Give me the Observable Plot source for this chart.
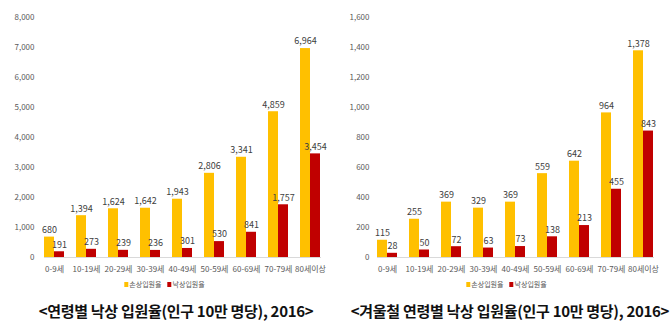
<!DOCTYPE html>
<html>
<head>
<meta charset="utf-8">
<script src="https://cdn.jsdelivr.net/npm/d3@7"></script>
<script src="https://cdn.jsdelivr.net/npm/@observablehq/plot@0.6"></script>
<style>
  html, body { margin: 0; padding: 0; background: #fff; }
  #root { position: relative; width: 671px; height: 331px; overflow: hidden; font-family: "Noto Sans CJK KR", "Noto Sans", sans-serif; }
  .panel { position: absolute; top: 0; }
  .legend { position: absolute; top: 279px; transform: translateX(-50%); white-space: nowrap; font-size: 7px; color: #595959; display: flex; align-items: center; gap: 3px; }
  .legend .sw { display: inline-block; width: 4px; height: 5px; margin-right: 1px; }
  .legend .item { display: inline-flex; align-items: center; margin-right: 3px; }
  .caption { position: absolute; top: 300px; transform: translateX(-50%); white-space: nowrap; font-size: 15px; font-weight: 700; color: #111; letter-spacing: -0.3px; }
  svg [aria-label^="fx-axis"] text { font-size: 8px; }
  svg [aria-label^="y-axis"] text { font-size: 8px; }
</style>
</head>
<body>
<div id="root"></div>
<script>
const ages = ["0-9세", "10-19세", "20-29세", "30-39세", "40-49세", "50-59세", "60-69세", "70-79세", "80세이상"];
const series = ["손상입원율", "낙상입원율"];
const colors = ["#FFC000", "#C00000"];
const injuryAll = [680, 1394, 1624, 1642, 1943, 2806, 3341, 4859, 6964];
const fallAll = [191, 273, 239, 236, 301, 530, 841, 1757, 3454];
const injuryWinter = [115, 255, 369, 329, 369, 559, 642, 964, 1378];
const fallWinter = [28, 50, 72, 63, 73, 138, 213, 455, 843];
const yTicksAll = [0, 1000, 2000, 3000, 4000, 5000, 6000, 7000, 8000];
const yTicksWinter = [0, 200, 400, 600, 800, 1000, 1200, 1400, 1600];
const captions = ["<연령별 낙상 입원율(인구 10만 명당), 2016>", "<겨울철 연령별 낙상 입원율(인구 10만 명당), 2016>"];

const fmt = d3.format(",");

function chart(inj, fall, ticks, o) {
  const rows = ages.flatMap((a, i) => [
    {age: a, s: series[0], v: inj[i]},
    {age: a, s: series[1], v: fall[i]}
  ]);
  return Plot.plot({
    width: o.width,
    height: 280,
    marginLeft: o.ml,
    marginRight: o.mr,
    marginTop: 17,
    marginBottom: 23,
    style: {fontFamily: "'Noto Sans CJK KR', 'Noto Sans', sans-serif", color: "#595959", background: "transparent"},
    facet: {data: rows, x: "age"},
    fx: {domain: ages, paddingInner: 0.36, paddingOuter: o.po, tickSize: 0, tickPadding: 9, label: null, axis: "bottom"},
    x: {domain: series, axis: null, padding: 0},
    y: {domain: [0, ticks[ticks.length - 1]], ticks: ticks, tickFormat: fmt, tickSize: 0, tickPadding: o.tp, label: null},
    color: {domain: series, range: colors},
    marks: [
      Plot.frame({anchor: "bottom", facet: "super", stroke: "#d9d9d9"}),
      Plot.barY(rows, {x: "s", y: "v", fill: "s"}),
      Plot.text(rows, {x: "s", y: "v", text: d => fmt(d.v), dy: -7, fontSize: 9, fill: "#404040"})
    ]
  });
}

const root = document.getElementById("root");
const specs = [
  {data: [injuryAll, fallAll, yTicksAll], left: 0, width: 336, ml: 38, mr: 9, po: 0.07, tp: 10, legend: 166, cap: 176},
  {data: [injuryWinter, fallWinter, yTicksWinter], left: 336, width: 335, ml: 34, mr: 10, po: 0.1, tp: 8, legend: 508, cap: 510}
];
specs.forEach((s, k) => {
  const p = document.createElement("div");
  p.className = "panel";
  p.style.left = s.left + "px";
  p.appendChild(chart(s.data[0], s.data[1], s.data[2], s));
  root.appendChild(p);

  const lg = document.createElement("div");
  lg.className = "legend";
  lg.style.left = s.legend + "px";
  series.forEach((name, i) => {
    const it = document.createElement("span");
    it.className = "item";
    const sw = document.createElement("span");
    sw.className = "sw";
    sw.style.background = colors[i];
    it.appendChild(sw);
    it.appendChild(document.createTextNode(name));
    lg.appendChild(it);
  });
  root.appendChild(lg);

  const cap = document.createElement("div");
  cap.className = "caption";
  cap.style.left = s.cap + "px";
  cap.textContent = captions[k];
  root.appendChild(cap);
});
</script>
</body>
</html>
